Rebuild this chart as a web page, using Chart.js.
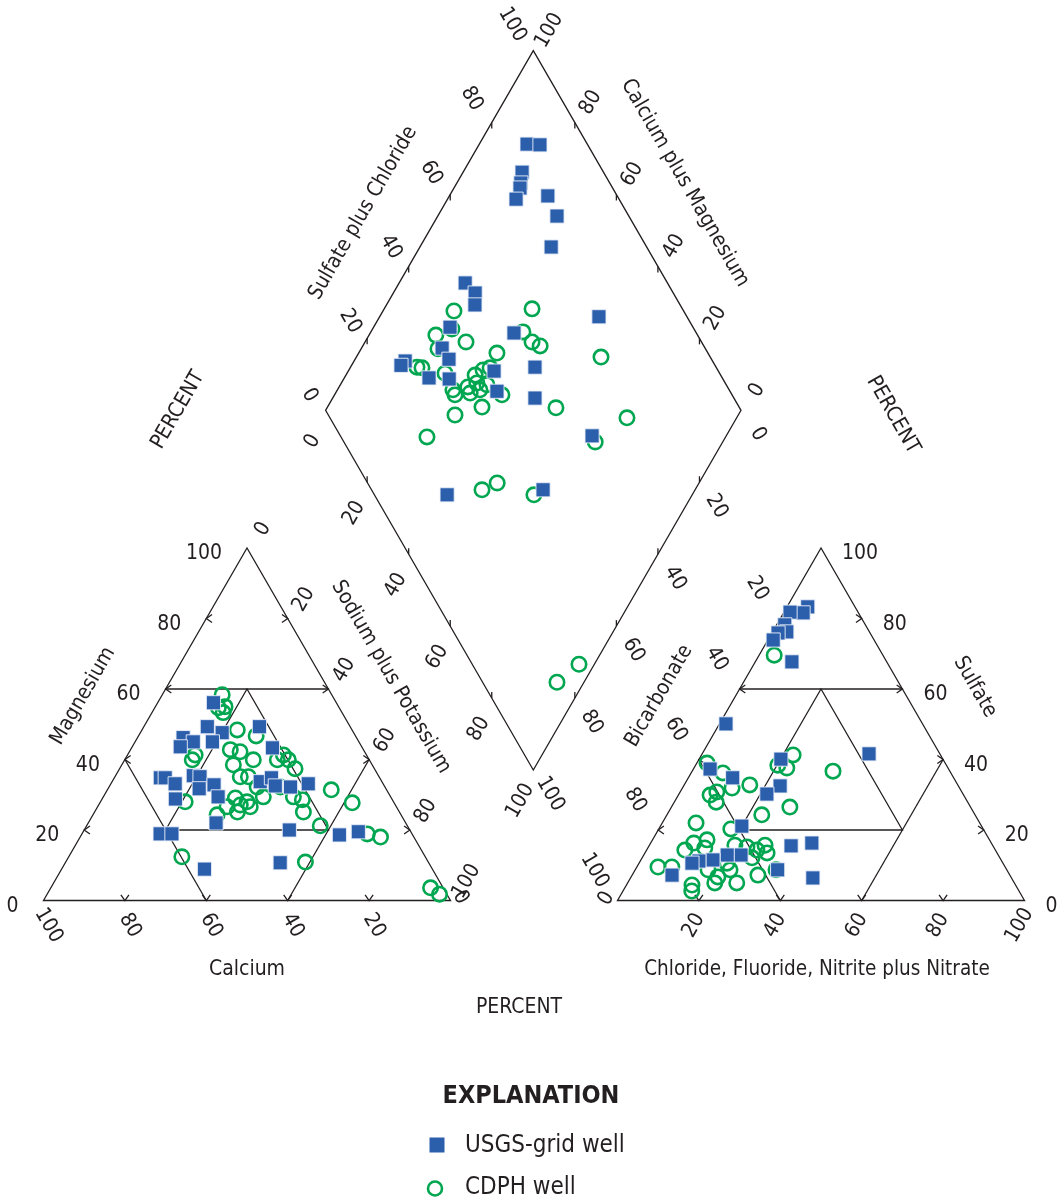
<!DOCTYPE html>
<html>
<head>
<meta charset="utf-8">
<title>Piper diagram</title>
<script src="https://cdn.jsdelivr.net/npm/chart.js@4.4.1/dist/chart.umd.min.js"></script>
<style>
  html, body { margin: 0; padding: 0; background: #ffffff; }
  #wrap { position: relative; width: 1062px; height: 1203px; }
</style>
</head>
<body>
<div id="wrap"><canvas id="piper"></canvas></div>
<script>
// ---- Data (percent of milliequivalents) ----
// Cation triangle: [Calcium, Magnesium, Sodium plus Potassium]
const cationUSGS = [
  [30.2,56.1,13.7],[35.1,49.3,15.6],[32.3,47.6,20.1],[22.3,49.3,28.4],[42.6,46.2,11.2],
  [40.7,45.0,14.3],[44.6,43.6,11.8],[36.0,45.0,19.0],[22.1,43.3,34.6],[53.9,34.8,11.3],
  [52.7,34.8,12.5],[51.1,33.1,15.8],[53.2,28.8,18.0],[45.5,35.4,19.1],[44.0,35.1,20.9],
  [45.9,31.7,22.4],[41.7,32.8,25.5],[42.4,29.4,28.2],[29.9,33.7,36.4],[26.6,34.8,38.6],
  [26.8,32.5,40.7],[23.2,32.2,44.6],[18.4,33.1,48.5],[46.6,22.0,31.4],[61.9,18.9,19.2],
  [59.0,18.9,22.1],[29.6,20.0,50.4],[18.0,18.6,63.4],[12.9,19.5,67.6],[36.5,10.7,52.8],
  [56.0,8.9,35.1]
];
const cationCDPH = [
  [26.9,58.4,14.7],[27.9,55.0,17.1],[29.2,53.3,17.5],[29.7,54.7,15.6],[28.2,48.4,23.4],
  [24.4,46.7,28.9],[32.7,42.8,24.5],[30.6,42.2,27.2],[28.5,39.9,31.6],[34.1,38.5,27.4],
  [34.1,35.1,30.8],[32.1,35.1,32.8],[43.5,39.9,16.6],[42.1,41.3,16.6],[20.4,41.3,38.3],
  [22.6,39.9,37.5],[19.9,39.9,40.2],[19.5,37.4,43.1],[31.3,29.4,39.3],[23.9,29.4,46.7],
  [22.1,28.6,49.3],[23.6,25.1,51.3],[13.6,31.4,55.0],[10.3,27.7,62.0],[21.4,21.2,57.4],
  [11.0,18.9,70.1],[8.2,18.0,73.8],[59.8,12.4,27.8],[30.2,10.9,58.9],[3.1,3.6,93.3],
  [1.8,1.8,96.4],[41.6,26.6,31.8],[38.3,29.1,32.6],[38.1,27.1,34.8],[36.0,28.0,36.0],
  [39.8,25.1,35.1],[35.9,26.6,37.5],[45.2,24.3,30.5],[51.2,28.0,20.8],[31.4,32.2,36.4],
  [25.7,32.2,42.1]
];
// Anion triangle: [Bicarbonate, Sulfate, Chloride+Fluoride+Nitrite+Nitrate]
const anionUSGS = [
  [11.6,83.3,5.1],[13.6,81.6,4.8],[16.7,81.8,1.5],[19.8,78.2,2.0],[20.3,76.2,3.5],
  [22.6,75.9,1.5],[24.8,73.9,1.3],[23.3,67.7,9.0],[48.3,50.1,1.6],[17.4,41.6,41.0],
  [39.8,40.1,20.1],[58.6,37.3,4.1],[54.3,34.8,10.9],[43.8,32.5,23.7],[48.2,30.2,21.6],
  [58.9,21.1,20.0],[49.6,15.5,34.9],[44.1,16.3,39.6],[63.2,12.9,23.9],[66.6,12.9,20.5],
  [70.8,11.5,17.7],[74.4,11.2,14.4],[76.4,10.6,13.0],[56.3,8.7,35.0],[48.8,6.4,44.8],
  [83.0,7.2,9.8]
];
const anionCDPH = [
  [26.7,69.6,3.7],[36.2,41.3,22.5],[39.6,37.6,22.8],[41.4,38.4,20.2],[28.7,36.7,34.6],
  [58.5,39.0,2.5],[56.0,36.2,7.8],[51.1,32.8,16.1],[55.9,31.9,12.2],[60.2,30.8,9.0],
  [62.3,29.9,7.8],[61.8,27.9,10.3],[44.4,26.5,29.1],[52.4,24.3,23.3],[69.7,22.0,8.3],
  [62.0,20.3,17.7],[76.3,14.3,9.4],[73.1,16.3,10.6],[69.4,17.2,13.4],[85.3,9.5,5.2],
  [81.9,9.5,8.6],[79.5,4.4,16.1],[80.4,2.7,16.9],[73.6,5.0,21.4],[72.0,6.7,21.3],
  [68.2,5.0,26.8],[61.9,7.2,30.9],[73.4,8.7,17.9],[67.8,10.6,21.6],[68.0,8.7,23.3],
  [60.6,15.2,24.2],[58.6,14.3,27.1],[55.9,15.7,28.4],[56.5,13.5,30.0],[60.9,12.1,27.0],
  [63.3,15.7,21.0],[71.1,14.9,14.0],[56.7,8.7,34.6]
];
// Diamond: [Calcium plus Magnesium, Sulfate plus Chloride]
const diamondUSGS = [
  [88.5,85.5],[85.3,88.5],[85.8,80.4],[84.6,78.6],[84.1,77.7],[83.5,75.2],[76.3,83.3],
  [71.3,82.7],[68.4,77.0],[84.1,51.3],[80.3,52.3],[78.7,50.6],[81.6,41.5],[47.2,78.8],
  [65.4,56.1],[80.6,36.7],[77.4,36.8],[87.7,26.0],[88.1,24.4],[79.6,29.4],[74.6,34.1],
  [64.9,46.0],[61.4,43.9],[55.6,56.4],[51.3,52.1],[32.3,60.6],[59.0,17.5],[36.6,41.3]
];
const diamondCDPH = [
  [82.9,44.7],[64.4,63.8],[83.9,37.0],[80.9,41.7],[75.7,43.3],[81.5,35.6],[63.4,58.4],
  [59.8,59.2],[57.3,60.6],[66.7,49.2],[41.1,73.7],[84.0,28.0],[82.7,29.1],[76.4,33.9],
  [68.9,40.9],[67.7,43.5],[66.3,45.5],[72.2,33.5],[71.0,33.3],[69.0,37.5],[67.6,37.2],
  [67.4,40.2],[65.7,40.0],[64.7,42.4],[59.7,44.6],[62.8,38.1],[68.2,30.5],[44.9,55.8],
  [26.4,71.5],[71.9,20.7],[30.7,60.5],[51.3,26.6],[48.6,31.2],[38.1,38.4],[6.5,17.9],
  [3.7,25.7]
];
const tickValues = [0, 20, 40, 60, 80, 100];
const seriesNames = ['USGS-grid well', 'CDPH well'];

// ---- Layout of the three plotting fields (drawing units = pixels) ----
const SIDE = 407, HGT = 352.5, BASE_Y = 900.5;
const CAT_X0 = 43.5, AN_X0 = 617.5;
const DIA = { bx: 533.3, by: 770, hw: 207.7, hh: 359.7 };

const cationXY = ([ca, mg, na]) => ({ x: CAT_X0 + SIDE * (na + mg / 2) / 100, y: BASE_Y - HGT * mg / 100 });
const anionXY  = ([hc, so, cl]) => ({ x: AN_X0 + SIDE * (cl + so / 2) / 100, y: BASE_Y - HGT * so / 100 });
const diamondXY = ([cm, sc]) => ({ x: DIA.bx + DIA.hw * (sc - cm) / 100, y: DIA.by - DIA.hh * (cm + sc) / 100 });

const BLUE = '#2b5fac', GREEN = '#00a650', INK = '#231f20';
const FAMILY = '"Liberation Sans Narrow", "Arial Narrow", "DejaVu Sans Condensed", sans-serif';

const squareStyle = { pointStyle: 'rect', pointRadius: 10, pointHoverRadius: 10,
  backgroundColor: BLUE, borderColor: 'rgba(235,240,250,0.9)', borderWidth: 1, showLine: false };
const circleStyle = { pointStyle: 'circle', pointRadius: 7.2, pointHoverRadius: 7.2,
  backgroundColor: 'rgba(0,0,0,0)', borderColor: GREEN, borderWidth: 2.6, showLine: false };

// ---- Frame, grid, ticks and text drawn through the chart scales ----
const piperFrame = {
  id: 'piperFrame',
  beforeDatasetsDraw(chart) {
    const { ctx } = chart;
    const sx = chart.scales.x, sy = chart.scales.y;
    const P = p => ({ x: sx.getPixelForValue(p.x), y: sy.getPixelForValue(p.y) });
    const line = (pts, close) => {
      ctx.beginPath();
      pts.map(P).forEach((q, i) => i ? ctx.lineTo(q.x, q.y) : ctx.moveTo(q.x, q.y));
      if (close) ctx.closePath();
      ctx.stroke();
    };
    const arrowTick = (p, ang) => {   // small arrowhead pointing outward
      const q = P(p), a = ang * Math.PI / 180, h = 35 * Math.PI / 180, L = 7;
      ctx.beginPath();
      ctx.moveTo(q.x - L * Math.cos(a - h), q.y - L * Math.sin(a - h));
      ctx.lineTo(q.x, q.y);
      ctx.lineTo(q.x - L * Math.cos(a + h), q.y - L * Math.sin(a + h));
      ctx.stroke();
    };
    const barTick = (p, dir) => {      // short vertical tick inside the diamond
      const q = P(p);
      ctx.beginPath(); ctx.moveTo(q.x, q.y); ctx.lineTo(q.x, q.y + dir * 6); ctx.stroke();
    };
    const text = (s, p, dx, dy, rot, align, font) => {
      const q = P(p);
      ctx.save();
      ctx.translate(q.x + dx, q.y + dy);
      ctx.rotate(rot * Math.PI / 180);
      ctx.font = font || ('21px ' + FAMILY);
      ctx.fillStyle = INK;
      ctx.textAlign = align || 'center';
      ctx.textBaseline = 'middle';
      ctx.fillText(s, 0, 0);
      ctx.restore();
    };

    ctx.save();
    ctx.strokeStyle = INK;
    ctx.lineWidth = 1.3;
    ctx.lineJoin = 'miter';

    // triangles: outline + facies subdivisions
    [cationXY, anionXY].forEach(f => {
      line([f([100,0,0]), f([0,100,0]), f([0,0,100])], true);
      line([f([40,60,0]), f([0,60,40])]);
      line([f([60,40,0]), f([60,0,40])]);
      line([f([0,40,60]), f([40,0,60])]);
      line([f([20,60,20]), f([60,20,20]), f([20,20,60])], true);
      [20, 40, 60, 80].forEach(v => {
        arrowTick(f([100 - v, v, 0]), 180);
        arrowTick(f([0, 100 - v, v]), 0);
        arrowTick(f([100 - v, 0, v]), 90);
      });
    });
    // diamond outline + ticks
    line([diamondXY([0,0]), diamondXY([100,0]), diamondXY([100,100]), diamondXY([0,100])], true);
    [20, 40, 60, 80].forEach(v => {
      barTick(diamondXY([100, v]), 1);
      barTick(diamondXY([v, 100]), 1);
      barTick(diamondXY([v, 0]), -1);
      barTick(diamondXY([0, v]), -1);
    });

    // cation tick labels
    tickValues.forEach(v => {
      text(String(v), cationXY([100 - v, v, 0]), -25, 6, 0, 'right');
      text(String(v), cationXY([0, 100 - v, v]), 16, -19, -60);
      if (v > 0) text(String(v), cationXY([v, 0, 100 - v]), 5, 25, 60);
      else text('0', cationXY([0, 0, 100]), 10, -3, 60);
    });
    // anion tick labels
    tickValues.forEach(v => {
      text(String(v), anionXY([0, v, 100 - v]), 21, 6, 0, 'left');
      if (v > 0) text(String(v), anionXY([v, 100 - v, 0]), -23, -30, 60);
      if (v > 0) text(String(v), anionXY([100 - v, 0, v]), -5, 25, -60);
      else text('0', anionXY([100, 0, 0]), -11, -2, -60);
    });
    // diamond tick labels
    tickValues.forEach(v => {
      text(String(v), diamondXY([100, v]), -16 - 0.05 * v, -15 - 0.11 * v, 60);
      text(String(v), diamondXY([v, 100]), 16, -20, -60);
      text(String(v), diamondXY([100 - v, 0]), -13, 31, -60);
      text(String(v), diamondXY([0, 100 - v]), 17, 24, 60);
    });

    // axis titles
    const toPlot = (x, y) => ({ x: sx.getValueForPixel(x), y: sy.getValueForPixel(y) });
    text('Magnesium', toPlot(83, 696), 0, 0, -60);
    text('Sodium plus Potassium', toPlot(391, 677), 0, 0, 60);
    text('Calcium', toPlot(247, 970), 0, 0, 0);
    text('Bicarbonate', toPlot(659, 696), 0, 0, -60);
    text('Sulfate', toPlot(975, 687), 0, 0, 60);
    text('Chloride, Fluoride, Nitrite plus Nitrate', toPlot(817, 970), 0, 0, 0, 'center', '20.5px ' + FAMILY);
    text('Sulfate plus Chloride', toPlot(363, 213), 0, 0, -60);
    text('Calcium plus Magnesium', toPlot(685, 183), 0, 0, 60);
    text('PERCENT', toPlot(178, 410), 0, 0, -60);
    text('PERCENT', toPlot(893, 415), 0, 0, 60);
    text('PERCENT', toPlot(519, 1008), 0, 0, 0);

    // explanation
    text('EXPLANATION', toPlot(531, 1096), 0, 0, 0, 'center', 'bold 25px ' + FAMILY);
    const sq = P(toPlot(437, 1145));
    ctx.fillStyle = BLUE;
    ctx.fillRect(sq.x - 7.5, sq.y - 7.5, 15, 15);
    const ci = P(toPlot(435, 1188.5));
    ctx.strokeStyle = GREEN; ctx.lineWidth = 2.6;
    ctx.beginPath(); ctx.arc(ci.x, ci.y, 7, 0, Math.PI * 2); ctx.stroke();
    text(seriesNames[0], toPlot(465, 1146), 0, 0, 0, 'left', '24px ' + FAMILY);
    text(seriesNames[1], toPlot(465, 1188), 0, 0, 0, 'left', '24px ' + FAMILY);
    ctx.restore();
  }
};

const pts = (arr, f) => arr.map(f);

new Chart(document.getElementById('piper'), {
  type: 'scatter',
  data: {
    datasets: [
      Object.assign({ label: seriesNames[0] + ' (diamond)', data: pts(diamondUSGS, diamondXY), order: 1 }, squareStyle),
      Object.assign({ label: seriesNames[0] + ' (cations)', data: pts(cationUSGS, cationXY), order: 1 }, squareStyle),
      Object.assign({ label: seriesNames[0] + ' (anions)', data: pts(anionUSGS, anionXY), order: 1 }, squareStyle),
      Object.assign({ label: seriesNames[1] + ' (diamond)', data: pts(diamondCDPH, diamondXY), order: 2 }, circleStyle),
      Object.assign({ label: seriesNames[1] + ' (cations)', data: pts(cationCDPH, cationXY), order: 2 }, circleStyle),
      Object.assign({ label: seriesNames[1] + ' (anions)', data: pts(anionCDPH, anionXY), order: 2 }, circleStyle)
    ]
  },
  options: {
    responsive: true,
    maintainAspectRatio: false,
    animation: false,
    devicePixelRatio: 1,
    layout: { padding: 0, autoPadding: false },
    events: [],
    plugins: { legend: { display: false }, tooltip: { enabled: false }, title: { display: false } },
    scales: {
      x: { type: 'linear', min: 0, max: 1062, display: false },
      y: { type: 'linear', min: 0, max: 1203, reverse: true, display: false }
    }
  },
  plugins: [piperFrame]
});
</script>
</body>
</html>
